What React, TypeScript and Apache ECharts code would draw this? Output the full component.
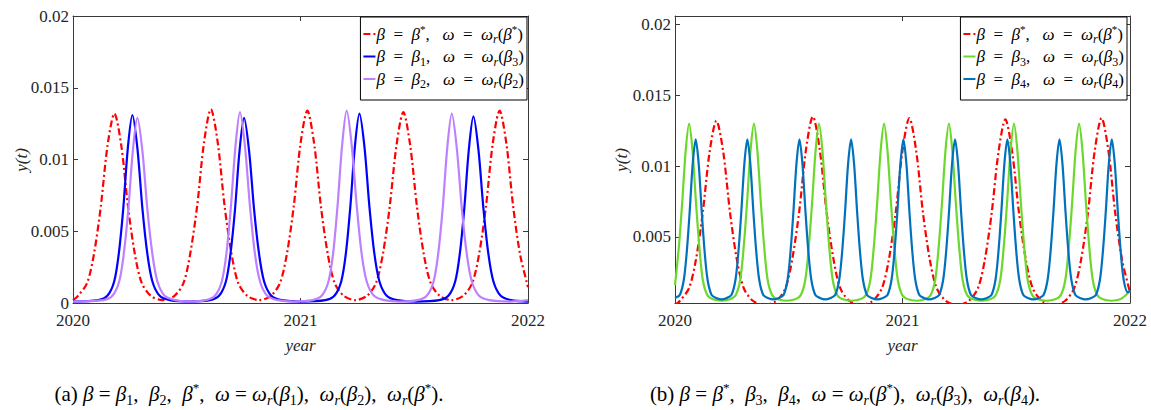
import React, { useEffect, useRef } from 'react';
import * as echarts from 'echarts';

const SERIF = 'Liberation Serif';
const AXIS_COLOR = '#3a3a3a';
const LABEL_COLOR = '#262626';

// ---- tick labels / ranges ----
const xTicks = [2020, 2021, 2022];
const leftYTicks = [0, 0.005, 0.01, 0.015, 0.02];
const rightYTicks = [0.005, 0.01, 0.015, 0.02];
const rightYMin = 0.00034;
const rightYMax = 0.0206;

// ---- series names ----
const NAME_STAR = 'β = β*, ω = ωr(β*)';
const NAME_B1 = 'β = β1, ω = ωr(β3)';
const NAME_B2 = 'β = β2, ω = ωr(β2)';
const NAME_B3 = 'β = β3, ω = ωr(β3)';
const NAME_B4 = 'β = β4, ω = ωr(β4)';

// ---- series values [year, y(t)] ----
const redStar = [
  [2020.0, 0.0002], [2020.022, 0.0005], [2020.062, 0.0014], [2020.092, 0.0034], [2020.122, 0.0067], [2020.152, 0.011], [2020.182, 0.0132], [2020.212, 0.011], [2020.242, 0.0067], [2020.272, 0.0034], [2020.302, 0.0014], [2020.342, 0.0005], [2020.394, 0.0002],
  [2020.446, 0.0005], [2020.486, 0.0014], [2020.516, 0.0035], [2020.546, 0.0068], [2020.576, 0.0112], [2020.606, 0.0135], [2020.636, 0.0112], [2020.666, 0.0068], [2020.696, 0.0035], [2020.726, 0.0014], [2020.766, 0.0005], [2020.818, 0.0002],
  [2020.87, 0.0005], [2020.91, 0.0014], [2020.94, 0.0034], [2020.97, 0.0067], [2021.0, 0.0111], [2021.03, 0.0134], [2021.06, 0.0111], [2021.09, 0.0067], [2021.12, 0.0034], [2021.15, 0.0014], [2021.19, 0.0005], [2021.241, 0.0002],
  [2021.292, 0.0005], [2021.332, 0.0014], [2021.362, 0.0034], [2021.392, 0.0067], [2021.422, 0.011], [2021.452, 0.0133], [2021.482, 0.011], [2021.512, 0.0067], [2021.542, 0.0034], [2021.572, 0.0014], [2021.612, 0.0005], [2021.664, 0.0002],
  [2021.715, 0.0005], [2021.755, 0.0014], [2021.785, 0.0034], [2021.815, 0.0067], [2021.845, 0.0111], [2021.875, 0.0134], [2021.905, 0.0111], [2021.935, 0.0067], [2021.965, 0.0034], [2021.995, 0.0014], [2022.0, 0.0011],
];

const blueB1 = [
  [2020.0, 0.0001], [2020.111, 0.0002], [2020.151, 0.0005], [2020.181, 0.0015], [2020.201, 0.0034], [2020.221, 0.0066], [2020.241, 0.0108], [2020.261, 0.0131], [2020.283, 0.0108], [2020.305, 0.0066], [2020.327, 0.0034], [2020.349, 0.0015], [2020.381, 0.0005], [2020.426, 0.0002], [2020.51, 0.0001],
  [2020.602, 0.0002], [2020.642, 0.0005], [2020.672, 0.0015], [2020.692, 0.0034], [2020.712, 0.0065], [2020.732, 0.0106], [2020.752, 0.0129], [2020.774, 0.0106], [2020.796, 0.0065], [2020.818, 0.0034], [2020.84, 0.0015], [2020.872, 0.0005], [2020.917, 0.0002], [2021.005, 0.0001],
  [2021.109, 0.0002], [2021.149, 0.0005], [2021.179, 0.0015], [2021.199, 0.0034], [2021.219, 0.0067], [2021.239, 0.0109], [2021.259, 0.0132], [2021.281, 0.0109], [2021.303, 0.0067], [2021.325, 0.0034], [2021.347, 0.0015], [2021.379, 0.0005], [2021.424, 0.0002], [2021.51, 0.0001],
  [2021.61, 0.0002], [2021.65, 0.0005], [2021.68, 0.0015], [2021.7, 0.0034], [2021.72, 0.0066], [2021.74, 0.0107], [2021.76, 0.013], [2021.782, 0.0107], [2021.804, 0.0066], [2021.826, 0.0034], [2021.848, 0.0015], [2021.88, 0.0005], [2021.925, 0.0002], [2022.0, 0.0001],
];

const purpleB2 = [
  [2020.0, 0.0001], [2020.133, 0.0002], [2020.173, 0.0005], [2020.203, 0.0015], [2020.223, 0.0034], [2020.243, 0.0065], [2020.263, 0.0106], [2020.283, 0.0129], [2020.305, 0.0106], [2020.327, 0.0065], [2020.349, 0.0034], [2020.371, 0.0015], [2020.403, 0.0005], [2020.448, 0.0002], [2020.51, 0.0001],
  [2020.584, 0.0002], [2020.624, 0.0005], [2020.654, 0.0015], [2020.674, 0.0034], [2020.694, 0.0067], [2020.714, 0.0109], [2020.734, 0.0133], [2020.756, 0.0109], [2020.778, 0.0067], [2020.8, 0.0034], [2020.822, 0.0015], [2020.854, 0.0005], [2020.899, 0.0002], [2020.97, 0.0001],
  [2021.053, 0.0002], [2021.093, 0.0005], [2021.123, 0.0015], [2021.143, 0.0034], [2021.163, 0.0068], [2021.183, 0.011], [2021.203, 0.0134], [2021.225, 0.011], [2021.247, 0.0068], [2021.269, 0.0034], [2021.291, 0.0015], [2021.323, 0.0005], [2021.368, 0.0002], [2021.435, 0.0001],
  [2021.515, 0.0002], [2021.555, 0.0005], [2021.585, 0.0015], [2021.605, 0.0034], [2021.625, 0.0066], [2021.645, 0.0108], [2021.665, 0.0132], [2021.687, 0.0108], [2021.709, 0.0066], [2021.731, 0.0034], [2021.753, 0.0015], [2021.785, 0.0005], [2021.83, 0.0002], [2021.92, 0.0001], [2022.0, 0.0002],
];

const greenB3 = [
  [2020.0, 0.0016], [2020.017, 0.0043], [2020.032, 0.0075], [2020.047, 0.0111], [2020.062, 0.013], [2020.077, 0.0111], [2020.092, 0.0075], [2020.107, 0.0043], [2020.122, 0.002], [2020.142, 0.0009], [2020.167, 0.0006], [2020.205, 0.0005],
  [2020.242, 0.0006], [2020.267, 0.0009], [2020.287, 0.002], [2020.302, 0.0043], [2020.317, 0.0075], [2020.332, 0.0111], [2020.347, 0.013], [2020.362, 0.0111], [2020.377, 0.0075], [2020.392, 0.0043], [2020.407, 0.002], [2020.427, 0.0009], [2020.452, 0.0006], [2020.49, 0.0005],
  [2020.528, 0.0006], [2020.553, 0.0009], [2020.573, 0.002], [2020.588, 0.0043], [2020.603, 0.0075], [2020.618, 0.0111], [2020.633, 0.013], [2020.648, 0.0111], [2020.663, 0.0075], [2020.678, 0.0043], [2020.693, 0.002], [2020.713, 0.0009], [2020.738, 0.0006], [2020.776, 0.0005],
  [2020.814, 0.0006], [2020.839, 0.0009], [2020.859, 0.002], [2020.874, 0.0043], [2020.889, 0.0075], [2020.904, 0.0111], [2020.919, 0.013], [2020.934, 0.0111], [2020.949, 0.0075], [2020.964, 0.0043], [2020.979, 0.002], [2020.999, 0.0009], [2021.024, 0.0006], [2021.062, 0.0005],
  [2021.099, 0.0006], [2021.124, 0.0009], [2021.144, 0.002], [2021.159, 0.0043], [2021.174, 0.0075], [2021.189, 0.0111], [2021.204, 0.013], [2021.219, 0.0111], [2021.234, 0.0075], [2021.249, 0.0043], [2021.264, 0.002], [2021.284, 0.0009], [2021.309, 0.0006], [2021.347, 0.0005],
  [2021.385, 0.0006], [2021.41, 0.0009], [2021.43, 0.002], [2021.445, 0.0043], [2021.46, 0.0075], [2021.475, 0.0111], [2021.49, 0.013], [2021.505, 0.0111], [2021.52, 0.0075], [2021.535, 0.0043], [2021.55, 0.002], [2021.57, 0.0009], [2021.595, 0.0006], [2021.633, 0.0005],
  [2021.671, 0.0006], [2021.696, 0.0009], [2021.716, 0.002], [2021.731, 0.0043], [2021.746, 0.0075], [2021.761, 0.0111], [2021.776, 0.013], [2021.791, 0.0111], [2021.806, 0.0075], [2021.821, 0.0043], [2021.836, 0.002], [2021.856, 0.0009], [2021.881, 0.0006], [2021.919, 0.0005],
  [2021.957, 0.0006], [2021.982, 0.0009], [2022.0, 0.0012],
];

const steelB4 = [
  [2020.0, 0.0007], [2020.021, 0.0009], [2020.039, 0.002], [2020.052, 0.004], [2020.065, 0.0069], [2020.078, 0.0102], [2020.091, 0.0119], [2020.104, 0.0102], [2020.117, 0.0069], [2020.13, 0.004], [2020.143, 0.002], [2020.161, 0.0009], [2020.181, 0.0007], [2020.205, 0.0006],
  [2020.228, 0.0007], [2020.248, 0.0009], [2020.266, 0.002], [2020.279, 0.004], [2020.292, 0.0069], [2020.305, 0.0102], [2020.318, 0.0119], [2020.331, 0.0102], [2020.344, 0.0069], [2020.357, 0.004], [2020.37, 0.002], [2020.388, 0.0009], [2020.408, 0.0007], [2020.432, 0.0006],
  [2020.457, 0.0007], [2020.477, 0.0009], [2020.495, 0.002], [2020.508, 0.004], [2020.521, 0.0069], [2020.534, 0.0102], [2020.547, 0.0119], [2020.56, 0.0102], [2020.573, 0.0069], [2020.586, 0.004], [2020.599, 0.002], [2020.617, 0.0009], [2020.637, 0.0007], [2020.66, 0.0006],
  [2020.684, 0.0007], [2020.704, 0.0009], [2020.722, 0.002], [2020.735, 0.004], [2020.748, 0.0069], [2020.761, 0.0102], [2020.774, 0.0119], [2020.787, 0.0102], [2020.8, 0.0069], [2020.813, 0.004], [2020.826, 0.002], [2020.844, 0.0009], [2020.864, 0.0007], [2020.889, 0.0006],
  [2020.914, 0.0007], [2020.934, 0.0009], [2020.952, 0.002], [2020.965, 0.004], [2020.978, 0.0069], [2020.991, 0.0102], [2021.004, 0.0119], [2021.017, 0.0102], [2021.03, 0.0069], [2021.043, 0.004], [2021.056, 0.002], [2021.074, 0.0009], [2021.094, 0.0007], [2021.117, 0.0006],
  [2021.141, 0.0007], [2021.161, 0.0009], [2021.179, 0.002], [2021.192, 0.004], [2021.205, 0.0069], [2021.218, 0.0102], [2021.231, 0.0119], [2021.244, 0.0102], [2021.257, 0.0069], [2021.27, 0.004], [2021.283, 0.002], [2021.301, 0.0009], [2021.321, 0.0007], [2021.346, 0.0006],
  [2021.371, 0.0007], [2021.391, 0.0009], [2021.409, 0.002], [2021.422, 0.004], [2021.435, 0.0069], [2021.448, 0.0102], [2021.461, 0.0119], [2021.474, 0.0102], [2021.487, 0.0069], [2021.5, 0.004], [2021.513, 0.002], [2021.531, 0.0009], [2021.551, 0.0007], [2021.575, 0.0006],
  [2021.6, 0.0007], [2021.62, 0.0009], [2021.638, 0.002], [2021.651, 0.004], [2021.664, 0.0069], [2021.677, 0.0102], [2021.69, 0.0119], [2021.703, 0.0102], [2021.716, 0.0069], [2021.729, 0.004], [2021.742, 0.002], [2021.76, 0.0009], [2021.78, 0.0007], [2021.805, 0.0006],
  [2021.83, 0.0007], [2021.85, 0.0009], [2021.868, 0.002], [2021.881, 0.004], [2021.894, 0.0069], [2021.907, 0.0102], [2021.92, 0.0119], [2021.933, 0.0102], [2021.946, 0.0069], [2021.959, 0.004], [2021.972, 0.002], [2021.99, 0.0011], [2022.0, 0.0012],
];

// ---- rich text styles ----
const FS = 17;
const richBase = {
  n: { fontFamily: SERIF, fontSize: FS, lineHeight: 22, color: '#000' },
  it: { fontFamily: SERIF, fontSize: FS, fontStyle: 'italic', lineHeight: 22, color: '#000' },
  sub: { fontFamily: SERIF, fontSize: 12, lineHeight: 14, verticalAlign: 'bottom', color: '#000' },
  subi: { fontFamily: SERIF, fontSize: 12, fontStyle: 'italic', lineHeight: 14, verticalAlign: 'bottom', color: '#000' },
  sup: { fontFamily: SERIF, fontSize: 11, lineHeight: 12, verticalAlign: 'top', color: '#000' },
};
const CFS = 21;
const capRich = {
  n: { fontFamily: SERIF, fontSize: CFS, lineHeight: 26, color: '#000' },
  it: { fontFamily: SERIF, fontSize: CFS, fontStyle: 'italic', lineHeight: 26, color: '#000' },
  sub: { fontFamily: SERIF, fontSize: 14, lineHeight: 16, verticalAlign: 'bottom', color: '#000' },
  subi: { fontFamily: SERIF, fontSize: 14, fontStyle: 'italic', lineHeight: 16, verticalAlign: 'bottom', color: '#000' },
  sup: { fontFamily: SERIF, fontSize: 13, lineHeight: 14, verticalAlign: 'top', color: '#000' },
};

const legendLabels: Record<string, string> = {
  [NAME_STAR]: '{it|β}{n|  =  }{it|β}{sup|*}{n|,   }{it|ω}{n|  =  }{it|ω}{subi|r}{n|(}{it|β}{sup|*}{n|)}',
  [NAME_B1]: '{it|β}{n|  =  }{it|β}{sub|1}{n|,   }{it|ω}{n|  =  }{it|ω}{subi|r}{n|(}{it|β}{sub|3}{n|)}',
  [NAME_B2]: '{it|β}{n|  =  }{it|β}{sub|2}{n|,   }{it|ω}{n|  =  }{it|ω}{subi|r}{n|(}{it|β}{sub|2}{n|)}',
  [NAME_B3]: '{it|β}{n|  =  }{it|β}{sub|3}{n|,   }{it|ω}{n|  =  }{it|ω}{subi|r}{n|(}{it|β}{sub|3}{n|)}',
  [NAME_B4]: '{it|β}{n|  =  }{it|β}{sub|4}{n|,   }{it|ω}{n|  =  }{it|ω}{subi|r}{n|(}{it|β}{sub|4}{n|)}',
};

const captionA = '{n|(a) }{it|β}{n| = }{it|β}{sub|1}{n|,  }{it|β}{sub|2}{n|,  }{it|β}{sup|*}{n|,  }{it|ω}{n| = }{it|ω}{subi|r}{n|(}{it|β}{sub|1}{n|),  }{it|ω}{subi|r}{n|(}{it|β}{sub|2}{n|),  }{it|ω}{subi|r}{n|(}{it|β}{sup|*}{n|).}';
const captionB = '{n|(b) }{it|β}{n| = }{it|β}{sup|*}{n|,  }{it|β}{sub|3}{n|,  }{it|β}{sub|4}{n|,  }{it|ω}{n| = }{it|ω}{subi|r}{n|(}{it|β}{sup|*}{n|),  }{it|ω}{subi|r}{n|(}{it|β}{sub|3}{n|),  }{it|ω}{subi|r}{n|(}{it|β}{sub|4}{n|).}';

const fmtNum = (v: number) => (v === 0 ? '0' : String(parseFloat(v.toFixed(5))));

function makeXAxis(gridIndex: number, position: 'bottom' | 'top') {
  const main = position === 'bottom';
  return {
    type: 'value', gridIndex, position, min: 2020, max: 2022, interval: 1,
    axisLine: { show: true, onZero: false, lineStyle: { color: AXIS_COLOR, width: 1 } },
    axisTick: { show: true, inside: true, length: 5, lineStyle: { color: AXIS_COLOR } },
    axisLabel: {
      show: main, color: LABEL_COLOR, fontFamily: SERIF, fontSize: FS, margin: 9,
      showMinLabel: true, showMaxLabel: true,
      formatter: (v: number) => (xTicks.includes(Math.round(v)) ? String(Math.round(v)) : ''),
    },
    splitLine: { show: false },
  };
}

function makeYAxisLeftChart(position: 'left' | 'right') {
  const main = position === 'left';
  return {
    type: 'value', gridIndex: 0, position, min: 0, max: 0.02, interval: 0.005,
    axisLine: { show: true, onZero: false, lineStyle: { color: AXIS_COLOR, width: 1 } },
    axisTick: { show: true, inside: true, length: 5, lineStyle: { color: AXIS_COLOR } },
    axisLabel: {
      show: main, color: LABEL_COLOR, fontFamily: SERIF, fontSize: FS, margin: 4,
      showMinLabel: true, showMaxLabel: true,
      formatter: (v: number) => (leftYTicks.some((t) => Math.abs(t - v) < 1e-9) ? fmtNum(v) : ''),
    },
    splitLine: { show: false },
  };
}

function makeYAxisRightChart(position: 'left' | 'right') {
  const main = position === 'left';
  return {
    type: 'value', gridIndex: 1, position, min: rightYMin, max: rightYMax,
    axisLine: { show: true, onZero: false, lineStyle: { color: AXIS_COLOR, width: 1 } },
    axisTick: { show: true, inside: true, length: 5, customValues: rightYTicks, lineStyle: { color: AXIS_COLOR } },
    axisLabel: {
      show: main, color: LABEL_COLOR, fontFamily: SERIF, fontSize: FS, margin: 4,
      customValues: rightYTicks,
      formatter: (v: number) => fmtNum(v),
    },
    splitLine: { show: false },
  };
}

function lineSeries(name: string, data: number[][], axis: number, color: string, dashed = false, width = 2.2) {
  return {
    type: 'line', name, data, xAxisIndex: axis, yAxisIndex: axis,
    symbol: 'none', showSymbol: false, smooth: 0.3, clip: true,
    lineStyle: { color, width, type: dashed ? [7, 3, 2, 3] : 'solid' },
    itemStyle: { color },
    emphasis: { disabled: true },
  };
}

function makeLegend(names: string[], right: number) {
  return {
    data: names, orient: 'vertical', right, top: 17,
    backgroundColor: '#fff', borderColor: '#000', borderWidth: 1, borderRadius: 0,
    padding: [6, 3, 10, 2], itemGap: 3, itemWidth: 12, itemHeight: 10,
    selectedMode: false,
    itemStyle: { color: 'rgba(0,0,0,0)', borderColor: 'rgba(0,0,0,0)', borderWidth: 0, opacity: 0 },
    textStyle: { rich: richBase, fontFamily: SERIF, fontSize: FS, color: '#000', padding: [0, 0, 0, -4] },
    formatter: (name: string) => legendLabels[name] || name,
  };
}

const centerText = { align: 'center', verticalAlign: 'middle', textAlign: 'center', textVerticalAlign: 'middle' };

export default function App() {
  const ref = useRef<HTMLDivElement>(null);
  useEffect(() => {
    document.body.style.margin = '0';
    if (!ref.current) return;
    const chart = echarts.init(ref.current, null, { renderer: 'svg' });
    chart.setOption({
      animation: false,
      backgroundColor: '#fff',
      textStyle: { fontFamily: SERIF },
      grid: [
        { left: 73, top: 16, width: 455, height: 287 },
        { left: 675, top: 16, width: 455, height: 287 },
      ],
      xAxis: [makeXAxis(0, 'bottom'), makeXAxis(1, 'bottom'), makeXAxis(0, 'top'), makeXAxis(1, 'top')],
      yAxis: [makeYAxisLeftChart('left'), makeYAxisRightChart('left'), makeYAxisLeftChart('right'), makeYAxisRightChart('right')],
      legend: [
        makeLegend([NAME_STAR, NAME_B1, NAME_B2], 1151 - 527),
        makeLegend([NAME_STAR, NAME_B3, NAME_B4], 1151 - 1127),
      ],
      series: [
        lineSeries(NAME_STAR, redStar, 0, '#ff0000', true),
        lineSeries(NAME_B1, blueB1, 0, '#0000ff'),
        lineSeries(NAME_B2, purpleB2, 0, '#bf80ff'),
        lineSeries(NAME_STAR, redStar, 1, '#ff0000', true),
        lineSeries(NAME_B3, greenB3, 1, '#6cd82c'),
        lineSeries(NAME_B4, steelB4, 1, '#0072bd'),
      ],
      graphic: [
        { type: 'text', x: 21.5, y: 160, rotation: Math.PI / 2, style: { text: 'y(t)', fontFamily: SERIF, fontSize: FS, fontStyle: 'italic', fill: LABEL_COLOR, ...centerText } },
        { type: 'text', x: 621.5, y: 160, rotation: Math.PI / 2, style: { text: 'y(t)', fontFamily: SERIF, fontSize: FS, fontStyle: 'italic', fill: LABEL_COLOR, ...centerText } },
        { type: 'text', x: 300.5, y: 345, style: { text: 'year', fontFamily: SERIF, fontSize: FS, fontStyle: 'italic', fill: LABEL_COLOR, ...centerText } },
        { type: 'text', x: 902.5, y: 345, style: { text: 'year', fontFamily: SERIF, fontSize: FS, fontStyle: 'italic', fill: LABEL_COLOR, ...centerText } },
        { type: 'text', x: 249, y: 394, style: { text: captionA, rich: capRich, fontFamily: SERIF, fontSize: CFS, fill: '#000', ...centerText } },
        { type: 'text', x: 845, y: 394, style: { text: captionB, rich: capRich, fontFamily: SERIF, fontSize: CFS, fill: '#000', ...centerText } },
      ],
    });
    return () => chart.dispose();
  }, []);
  return <div ref={ref} style={{ width: 1151, height: 410 }} />;
}
